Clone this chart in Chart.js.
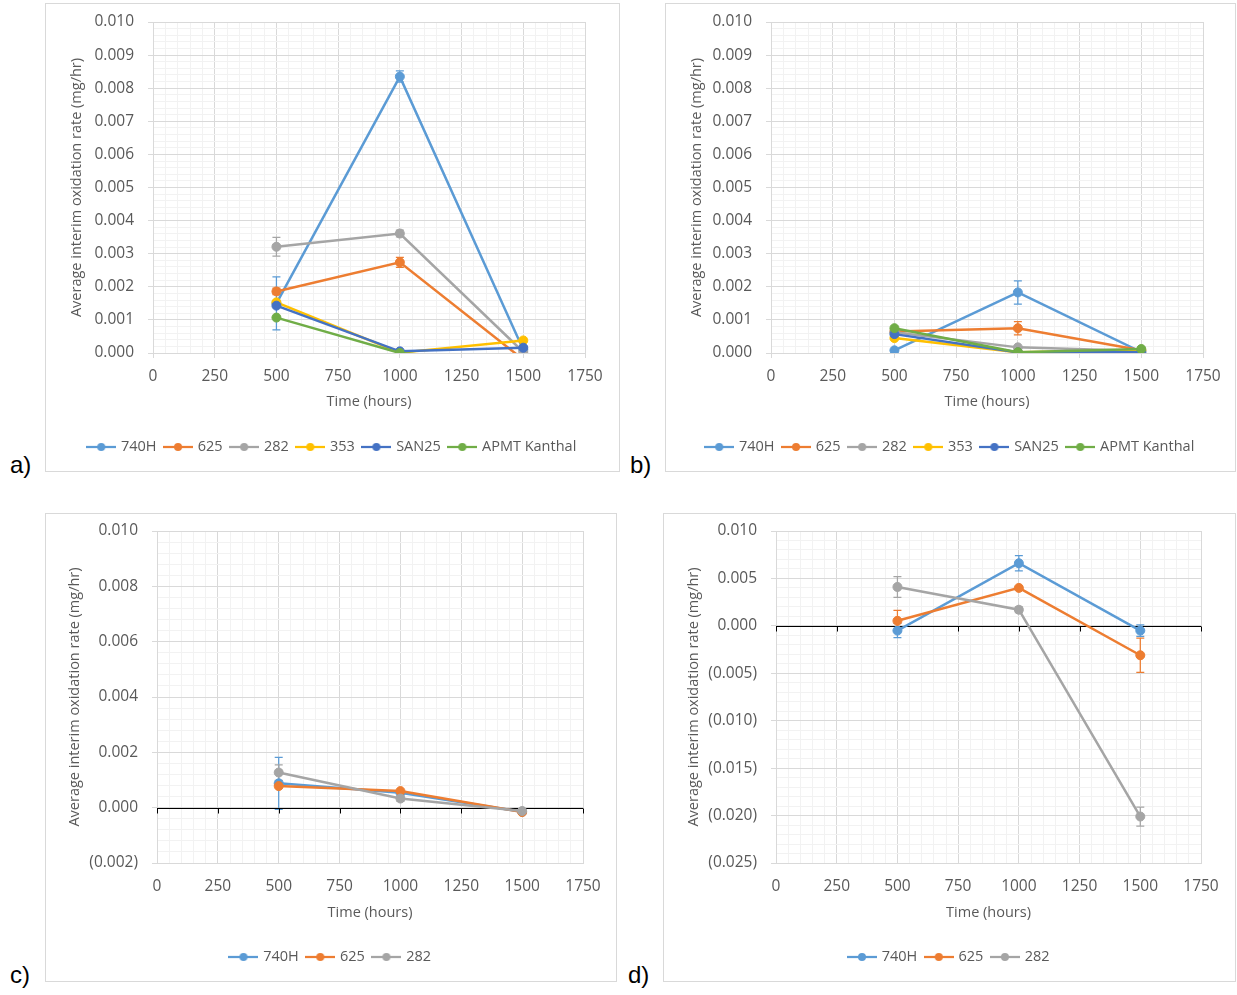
<!DOCTYPE html>
<html>
<head>
<meta charset="utf-8">
<title>Average interim oxidation rate</title>
<script src="https://cdn.jsdelivr.net/npm/chart.js@4.4.1/dist/chart.umd.min.js"></script>
<style>
  body { margin: 0; background: #fff; }
  .panel { position: absolute; border: 1px solid #d9d9d9; }
  .panel canvas { position: absolute; left: 0; top: 0; }
  .tag { position: absolute; font: 24px "Liberation Sans", Arial, sans-serif; line-height: 24px; color: #000; }
</style>
</head>
<body>
<div class="panel" style="left:45px;top:3px;width:573px;height:467px"><canvas id="chartA" width="573" height="467"></canvas></div>
<div class="panel" style="left:665px;top:3px;width:569px;height:467px"><canvas id="chartB" width="569" height="467"></canvas></div>
<div class="panel" style="left:45px;top:513px;width:570px;height:467px"><canvas id="chartC" width="570" height="467"></canvas></div>
<div class="panel" style="left:663px;top:513px;width:571px;height:467px"><canvas id="chartD" width="571" height="467"></canvas></div>
<div class="tag" style="left:10px;top:453px">a)</div>
<div class="tag" style="left:630px;top:453px">b)</div>
<div class="tag" style="left:10px;top:963px">c)</div>
<div class="tag" style="left:628px;top:963px">d)</div>
<script>
// exposure times (hours)
const HOURS = [500, 1000, 1500];

// a) values and error bars (mg/hr)
const a740H = [0.00150, 0.00835, 0.00010];
const a625 = [0.00186, 0.00274, -0.00020];
const a282 = [0.00321, 0.00361, 0.00003];
const a353 = [0.00153, 0.00001, 0.00038];
const aSAN25 = [0.00143, 0.00005, 0.00016];
const aAPMT = [0.00107, 0.00000, -0.00030];
const a740HErr = [0.00080, 0.00017, 0];
const a625Err = [0.00010, 0.00015, 0];
const a282Err = [0.00028, 0.00010, 0];

// b)
const b740H = [0.00008, 0.00183, 0.00003];
const b625 = [0.00065, 0.00075, 0.00008];
const b282 = [0.00063, 0.00017, 0.00006];
const b353 = [0.00045, 0.00002, 0.00008];
const bSAN25 = [0.00057, 0.00002, 0.00002];
const bAPMT = [0.00075, 0.00002, 0.00012];
const b740HErr = [0, 0.00035, 0];
const b625Err = [0, 0.00020, 0];

// c)
const c740H = [0.00088, 0.00054, -0.00015];
const c625 = [0.00078, 0.00060, -0.00016];
const c282 = [0.00127, 0.00033, -0.00012];
const c740HErr = [0.00094, 0, 0.00005];
const c282Err = [0.00028, 0.00010, 0];

// d)
const d740H = [-0.00050, 0.00660, -0.00050];
const d625 = [0.00053, 0.00400, -0.00310];
const d282 = [0.00410, 0.00170, -0.02010];
const d740HErr = [0.00075, 0.00080, 0.00060];
const d625Err = [0.00110, 0.00010, 0.00180];
const d282Err = [0.00110, 0.00030, 0.00100];

const X_MAJOR = 250, X_MINOR = 50;

const COLORS = {
  "740H": "#5B9BD5", "625": "#ED7D31", "282": "#A5A5A5",
  "353": "#FFC000", "SAN25": "#4472C4", "APMT Kanthal": "#70AD47"
};
const FONT = '"Open Sans", "Noto Sans", sans-serif';
const TEXT = "#595959";
const GRID_MAJOR = "#d9d9d9", GRID_MINOR = "#f2f2f2";
const TICK_FS = 15.5, TITLE_FS = 14.5, LEG_FS = 14.5, LEG_PAD = 9;

function onStep(v, step) {
  const r = v / step;
  return Math.abs(r - Math.round(r)) < 1e-6;
}

function yLabel(v, paren) {
  if (Math.abs(v) < 1e-12) return "0.000";
  if (paren && v < 0) return "(" + Math.abs(v).toFixed(3) + ")";
  return v.toFixed(3);
}

// Excel-like legend key: short line with a dot in the middle
function legendMarker(color) {
  const c = document.createElement("canvas");
  c.width = 30; c.height = 10;
  const x = c.getContext("2d");
  x.strokeStyle = color; x.lineWidth = 2.25;
  x.beginPath(); x.moveTo(0, 5); x.lineTo(30, 5); x.stroke();
  x.fillStyle = color;
  x.beginPath(); x.arc(15, 5, 4, 0, Math.PI * 2); x.fill();
  return c;
}

const errorBars = {
  id: "errorBars",
  beforeDatasetsDraw(chart) {
    const { ctx, chartArea: a, scales: { y } } = chart;
    ctx.save();
    ctx.beginPath();
    ctx.rect(a.left, a.top, a.right - a.left, a.bottom - a.top);
    ctx.clip();
    chart.data.datasets.forEach((ds, i) => {
      if (!ds.errors) return;
      const meta = chart.getDatasetMeta(i);
      ctx.strokeStyle = ds.borderColor;
      ctx.lineWidth = 1.25;
      ds.data.forEach((p, j) => {
        const e = ds.errors[j];
        if (!e) return;
        const px = meta.data[j].x;
        const top = y.getPixelForValue(p.y + e), bot = y.getPixelForValue(p.y - e);
        ctx.beginPath();
        ctx.moveTo(px, top); ctx.lineTo(px, bot);
        ctx.moveTo(px - 4, top); ctx.lineTo(px + 4, top);
        ctx.moveTo(px - 4, bot); ctx.lineTo(px + 4, bot);
        ctx.stroke();
      });
    });
    ctx.restore();
  }
};

// black horizontal axis at y = 0 with tick marks (panels c and d)
const zeroAxis = {
  id: "zeroAxis",
  beforeDatasetsDraw(chart, args, opts) {
    if (!opts.show) return;
    const { ctx, chartArea: a, scales: { x, y } } = chart;
    const y0 = Math.round(y.getPixelForValue(0)) + 0.5;
    ctx.save();
    ctx.strokeStyle = "#000";
    ctx.lineWidth = 1;
    ctx.beginPath();
    ctx.moveTo(a.left, y0); ctx.lineTo(a.right, y0);
    for (let v = x.min; v <= x.max; v += X_MAJOR) {
      const px = Math.round(x.getPixelForValue(v)) + 0.5;
      ctx.moveTo(px, y0); ctx.lineTo(px, y0 + 5);
    }
    ctx.stroke();
    ctx.restore();
  }
};

function buildPanel(id, series, g) {
  const titleLH = TITLE_FS * 1.2;
  const legendTop = g.legendY - LEG_PAD - LEG_FS / 2;
  const legendH = LEG_FS + LEG_PAD + 10;
  const n = series.length;

  const datasets = series.map((s, idx) => ({
    label: s.name,
    data: HOURS.map((h, i) => ({ x: h, y: s.values[i] })),
    errors: s.errors || null,
    borderColor: COLORS[s.name],
    backgroundColor: COLORS[s.name],
    pointBackgroundColor: COLORS[s.name],
    borderWidth: 2.5,
    pointRadius: 4.5,
    pointHoverRadius: 4.5,
    pointBorderWidth: 1,
    tension: 0,
    order: n - idx
  }));

  new Chart(document.getElementById(id), {
    type: "line",
    data: { datasets },
    plugins: [errorBars, zeroAxis],
    options: {
      responsive: false,
      animation: false,
      layout: { padding: { left: 10, right: 10, top: g.top, bottom: g.h - legendTop - legendH } },
      plugins: {
        tooltip: { enabled: false },
        zeroAxis: { show: g.zeroLine },
        legend: {
          position: "bottom",
          labels: {
            usePointStyle: true,
            pointStyleWidth: 25,
            padding: LEG_PAD,
            color: TEXT,
            font: { family: FONT, size: LEG_FS },
            generateLabels: chart => chart.data.datasets.map((ds, i) => ({
              text: ds.label,
              pointStyle: legendMarker(ds.borderColor),
              fillStyle: ds.borderColor,
              strokeStyle: ds.borderColor,
              lineWidth: 0,
              hidden: false,
              datasetIndex: i,
              fontColor: TEXT
            }))
          }
        }
      },
      scales: {
        x: {
          type: "linear", min: 0, max: 1750,
          ticks: {
            stepSize: X_MINOR, autoSkip: false, maxRotation: 0, padding: 9,
            color: TEXT, font: { family: FONT, size: TICK_FS },
            callback: v => onStep(v, X_MAJOR) ? String(v) : ""
          },
          grid: {
            color: c => (c.tick && !onStep(c.tick.value, X_MAJOR)) ? GRID_MINOR : GRID_MAJOR,
            tickLength: 5,
            tickColor: c => (!g.zeroLine && c.tick && onStep(c.tick.value, X_MAJOR)) ? GRID_MAJOR : "rgba(0,0,0,0)"
          },
          border: { color: GRID_MAJOR },
          title: {
            display: true, text: "Time (hours)", color: TEXT,
            font: { family: FONT, size: TITLE_FS },
            padding: { top: 0, bottom: legendTop - g.titleY - titleLH / 2 }
          },
          afterFit: s => { s.height = legendTop - g.bottom; }
        },
        y: {
          type: "linear", min: g.yMin, max: g.yMax,
          ticks: {
            stepSize: g.yMinor, autoSkip: false, padding: 14,
            color: TEXT, font: { family: FONT, size: TICK_FS },
            callback: v => onStep(v, g.yMajor) ? yLabel(v, g.zeroLine) : ""
          },
          grid: {
            color: c => (c.tick && !onStep(c.tick.value, g.yMajor)) ? GRID_MINOR : GRID_MAJOR,
            tickLength: 5,
            tickColor: c => (c.tick && onStep(c.tick.value, g.yMajor)) ? GRID_MAJOR : "rgba(0,0,0,0)"
          },
          border: { color: GRID_MAJOR },
          title: {
            display: true, text: "Average interim oxidation rate (mg/hr)", color: TEXT,
            font: { family: FONT, size: TITLE_FS },
            padding: { top: g.titleX - 10 - titleLH / 2, bottom: 0 }
          },
          afterFit: s => {
            s.width = g.left - 10;
            // tick padding would otherwise push the plot top down
            s.paddingTop = 0;
            s.paddingBottom = 0;
          }
        },
        // empty right-hand box that keeps the plot area off the right edge
        pad: {
          type: "linear", position: "right", display: true,
          ticks: { display: false },
          grid: { display: false, drawTicks: false },
          border: { display: false },
          afterFit: s => { s.width = g.right - 10; }
        }
      }
    }
  });
}

buildPanel("chartA", [
  { name: "740H", values: a740H, errors: a740HErr },
  { name: "625", values: a625, errors: a625Err },
  { name: "282", values: a282, errors: a282Err },
  { name: "353", values: a353 },
  { name: "SAN25", values: aSAN25 },
  { name: "APMT Kanthal", values: aAPMT }
], { h: 467, left: 107, right: 34, top: 18, bottom: 349, titleX: 31, titleY: 398, legendY: 443,
     yMin: 0, yMax: 0.010, yMinor: 0.0002, yMajor: 0.001, zeroLine: false });

buildPanel("chartB", [
  { name: "740H", values: b740H, errors: b740HErr },
  { name: "625", values: b625, errors: b625Err },
  { name: "282", values: b282 },
  { name: "353", values: b353 },
  { name: "SAN25", values: bSAN25 },
  { name: "APMT Kanthal", values: bAPMT }
], { h: 467, left: 105, right: 32, top: 18, bottom: 349, titleX: 31, titleY: 398, legendY: 443,
     yMin: 0, yMax: 0.010, yMinor: 0.0002, yMajor: 0.001, zeroLine: false });

buildPanel("chartC", [
  { name: "740H", values: c740H, errors: c740HErr },
  { name: "625", values: c625 },
  { name: "282", values: c282, errors: c282Err }
], { h: 467, left: 111, right: 33, top: 17, bottom: 349, titleX: 29, titleY: 399, legendY: 443,
     yMin: -0.002, yMax: 0.010, yMinor: 0.0004, yMajor: 0.002, zeroLine: true });

buildPanel("chartD", [
  { name: "740H", values: d740H, errors: d740HErr },
  { name: "625", values: d625, errors: d625Err },
  { name: "282", values: d282, errors: d282Err }
], { h: 467, left: 112, right: 34, top: 17, bottom: 349, titleX: 30, titleY: 399, legendY: 443,
     yMin: -0.025, yMax: 0.010, yMinor: 0.001, yMajor: 0.005, zeroLine: true });
</script>
</body>
</html>
